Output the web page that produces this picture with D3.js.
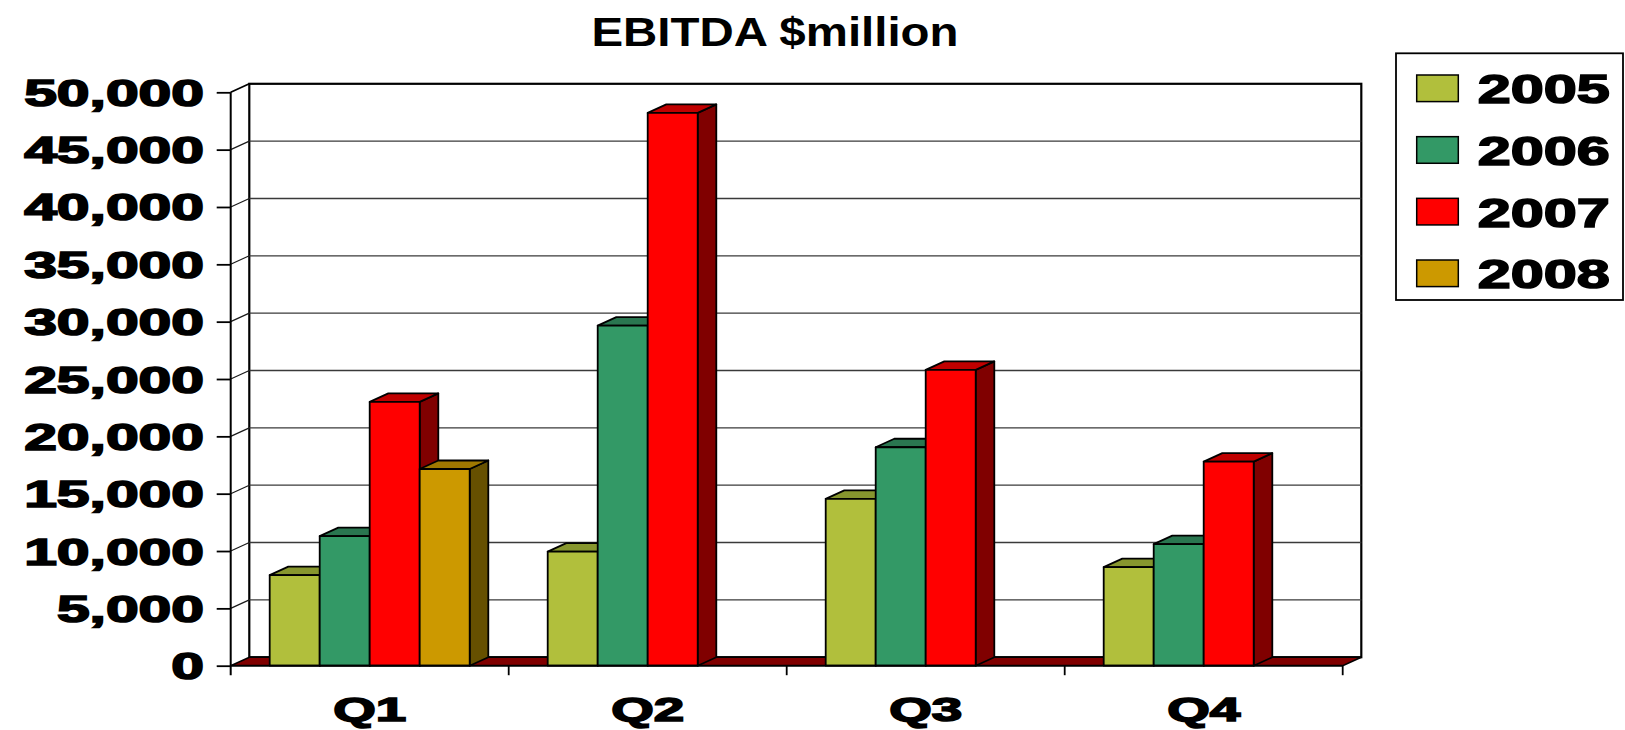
<!DOCTYPE html>
<html>
<head>
<meta charset="utf-8">
<script src="https://cdn.jsdelivr.net/npm/d3@7"></script>
<style>
  html, body { margin: 0; padding: 0; background: #fff; }
  svg { display: block; }
  text { font-family: "Liberation Sans", Arial, sans-serif; font-weight: bold; fill: #000; }
</style>
</head>
<body>
<svg id="chart" width="1625" height="730"></svg>
<script>
// EBITDA by quarter, $ million
const quarters = ["Q1", "Q2", "Q3", "Q4"];
const years = ["2005", "2006", "2007", "2008"];
const values2005 = [7900, 9950, 14550, 8600];
const values2006 = [11300, 29650, 19050, 10600];
const values2007 = [23000, 48200, 25800, 17800];
const values2008 = [17150, null, null, null];
const yTicks = [0, 5000, 10000, 15000, 20000, 25000, 30000, 35000, 40000, 45000, 50000];

const seriesValues = [values2005, values2006, values2007, values2008];
// front / top / side shades for each year
const faceColors = [
  { front: "#B1BF3C", top: "#87962E", side: "#5F6A20" },
  { front: "#339966", top: "#2A7650", side: "#1D5538" },
  { front: "#FF0000", top: "#C00000", side: "#800000" },
  { front: "#CC9900", top: "#A07800", side: "#665000" }
];

const svg = d3.select("#chart");

// plot geometry: front plane plus an oblique depth offset for the 3-D walls
const x0 = 230.7, x1 = 1342.7;
const yBottom = 665.7, yTop = 92.3;
const depth = { dx: 18.6, dy: -8.5 };

const x = d3.scaleBand().domain(quarters).range([x0, x1]).paddingInner(0.2806).paddingOuter(0.1403);
const xs = d3.scaleBand().domain(years).range([0, x.bandwidth()]).padding(0);
const y = d3.scaleLinear().domain([0, 50000]).range([yBottom, yTop]);

const fmt = d3.format(",");
const poly = pts => pts.map(p => p.join(",")).join(" ");

// ---- title
svg.append("text")
  .attr("x", 775).attr("y", 46)
  .attr("text-anchor", "middle")
  .attr("font-size", 40)
  .attr("textLength", 367).attr("lengthAdjust", "spacingAndGlyphs")
  .text("EBITDA $million");

// ---- walls
const walls = svg.append("g");
// back wall
walls.append("rect")
  .attr("x", x0 + depth.dx).attr("y", yTop + depth.dy)
  .attr("width", x1 - x0).attr("height", yBottom - yTop)
  .attr("fill", "#fff");
// side wall
walls.append("polygon")
  .attr("points", poly([[x0, yTop], [x0 + depth.dx, yTop + depth.dy], [x0 + depth.dx, yBottom + depth.dy], [x0, yBottom]]))
  .attr("fill", "#fff");

// gridlines on the back wall and the side wall
const grid = svg.append("g");
yTicks.slice(1, -1).forEach(t => {
  grid.append("line")
    .attr("x1", x0 + depth.dx).attr("x2", x1 + depth.dx)
    .attr("y1", y(t) + depth.dy).attr("y2", y(t) + depth.dy)
    .attr("stroke", "#3a3a3a").attr("stroke-width", 1.3);
  grid.append("line")
    .attr("x1", x0).attr("x2", x0 + depth.dx)
    .attr("y1", y(t)).attr("y2", y(t) + depth.dy)
    .attr("stroke", "#1a1a1a").attr("stroke-width", 1.2);
});

// back wall outline
walls.append("rect")
  .attr("x", x0 + depth.dx).attr("y", yTop + depth.dy)
  .attr("width", x1 - x0).attr("height", yBottom - yTop)
  .attr("fill", "none").attr("stroke", "#000").attr("stroke-width", 2.2);
svg.append("line")
  .attr("x1", x0).attr("y1", yTop).attr("x2", x0 + depth.dx).attr("y2", yTop + depth.dy)
  .attr("stroke", "#000").attr("stroke-width", 1.8);

// ---- floor
svg.append("polygon")
  .attr("points", poly([[x0, yBottom], [x1, yBottom], [x1 + depth.dx, yBottom + depth.dy], [x0 + depth.dx, yBottom + depth.dy]]))
  .attr("fill", "#800000").attr("stroke", "#000").attr("stroke-width", 1.5);

// ---- bars, drawn left to right so each front face covers the previous side face
const bars = [];
quarters.forEach((q, qi) => {
  years.forEach((yr, si) => {
    const v = seriesValues[si][qi];
    if (v == null) return;
    bars.push({ q, yr, si, v });
  });
});

const barG = svg.append("g")
  .attr("stroke", "#000").attr("stroke-width", 1.8).attr("stroke-linejoin", "round");

bars.forEach(d => {
  const left = x(d.q) + xs(d.yr);
  const right = left + xs.bandwidth();
  const top = y(d.v), base = y(0);
  const c = faceColors[d.si];
  const g = barG.append("g");
  g.append("polygon")
    .attr("points", poly([[right, base], [right + depth.dx, base + depth.dy], [right + depth.dx, top + depth.dy], [right, top]]))
    .attr("fill", c.side);
  g.append("polygon")
    .attr("points", poly([[left, top], [left + depth.dx, top + depth.dy], [right + depth.dx, top + depth.dy], [right, top]]))
    .attr("fill", c.top);
  g.append("rect")
    .attr("x", left).attr("y", top)
    .attr("width", right - left).attr("height", base - top)
    .attr("fill", c.front);
});

// ---- value axis
const yAxis = d3.axisLeft(y).tickValues(yTicks).tickSize(14).tickFormat("");
svg.append("g")
  .attr("transform", `translate(${x0},0)`)
  .call(yAxis)
  .call(g => g.select(".domain").remove())
  .call(g => g.selectAll(".tick line").attr("stroke", "#000").attr("stroke-width", 1.8));

svg.append("line")
  .attr("x1", x0).attr("x2", x0).attr("y1", yTop).attr("y2", yBottom + 9.5)
  .attr("stroke", "#000").attr("stroke-width", 2);

// tick labels: heavy, wide numerals
const digitW = 32.7, commaW = 16.3;
svg.append("g").selectAll("text")
  .data(yTicks)
  .join("text")
  .attr("x", 204)
  .attr("y", d => y(d) + 13.5)
  .attr("text-anchor", "end")
  .attr("font-size", 37)
  .attr("stroke", "#000").attr("stroke-width", 1.6)
  .attr("textLength", d => {
    const s = fmt(d);
    return s.replace(/,/g, "").length * digitW + (s.split(",").length - 1) * commaW;
  })
  .attr("lengthAdjust", "spacingAndGlyphs")
  .text(d => fmt(d));

// ---- category axis
const xAxis = d3.axisBottom(x).tickSize(0).tickFormat("");
svg.append("g")
  .attr("transform", `translate(0,${yBottom})`)
  .call(xAxis)
  .call(g => g.select(".domain").attr("stroke", "#000").attr("stroke-width", 1.8)
    .attr("d", `M${x0},0H${x1}`));

// category dividers
svg.append("g").selectAll("line")
  .data(quarters.slice(1).concat(["end"]))
  .join("line")
  .attr("x1", (d, i) => i < 3 ? x(d) - x.step() * x.paddingInner() / 2 : x1)
  .attr("x2", (d, i) => i < 3 ? x(d) - x.step() * x.paddingInner() / 2 : x1)
  .attr("y1", yBottom).attr("y2", yBottom + 9.5)
  .attr("stroke", "#000").attr("stroke-width", 1.8);

svg.append("g").selectAll("text")
  .data(quarters)
  .join("text")
  .attr("x", d => x(d) + x.bandwidth() / 2)
  .attr("y", 721)
  .attr("text-anchor", "middle")
  .attr("font-size", 34)
  .attr("stroke", "#000").attr("stroke-width", 1.6)
  .attr("textLength", 73).attr("lengthAdjust", "spacingAndGlyphs")
  .text(d => d);

// ---- legend
const legend = svg.append("g");
legend.append("rect")
  .attr("x", 1396).attr("y", 53.3).attr("width", 227).attr("height", 246.7)
  .attr("fill", "#fff").attr("stroke", "#000").attr("stroke-width", 1.8);

const legendY = d3.scalePoint().domain(years).range([88.3, 273.3]);
years.forEach((yr, i) => {
  legend.append("rect")
    .attr("x", 1416.7).attr("y", legendY(yr) - 13.3)
    .attr("width", 41.6).attr("height", 26.6)
    .attr("fill", faceColors[i].front).attr("stroke", "#000").attr("stroke-width", 1.5);
  legend.append("text")
    .attr("x", 1477.7).attr("y", legendY(yr) + 15)
    .attr("font-size", 41)
    .attr("stroke", "#000").attr("stroke-width", 1.6)
    .attr("textLength", 132).attr("lengthAdjust", "spacingAndGlyphs")
    .text(yr);
});
</script>
</body>
</html>
